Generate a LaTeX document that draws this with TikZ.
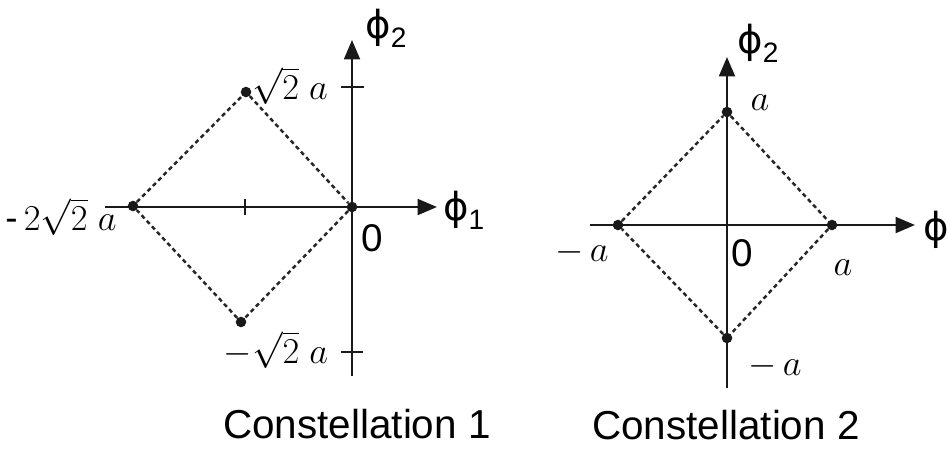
\documentclass[tikz,border=0pt]{standalone}
\usepackage[no-math]{fontspec}
\setmainfont{Liberation Sans}
\newfontfamily\phifont{DejaVu Sans}
\usetikzlibrary{arrows.meta, positioning}

\newcommand{\phisub}[1]{{\phifont ϕ}\raisebox{-0.45ex}{\fontsize{16}{16}\selectfont #1}}

\begin{document}
\begin{tikzpicture}[
    x=0.02cm, y=-0.02cm,
    axis/.style={line width=1.4pt, black!90},
    axisarr/.style={axis, -{Triangle[length=11pt, width=9pt]}},
    bound/.style={line width=1.4pt, black!85, dash pattern=on 2.4pt off 1.9pt},
    sigpt/.style={circle, fill=black!90, inner sep=0pt, minimum size=6pt},
    tickmark/.style={line width=1.3pt, black!90},
    lbl/.style={font=\fontsize{21}{24}\selectfont, inner sep=1pt},
    axlbl/.style={font=\fontsize{22}{24}\selectfont, inner sep=1pt},
    captext/.style={font=\fontsize{23}{26}\selectfont}
]
\useasboundingbox (0,0) rectangle (947,461);

% Constellation 1: axes
\coordinate (x1l) at (105,207);
\coordinate (x1r) at (437,207);
\coordinate (y1b) at (352,376);
\coordinate (y1t) at (352,40);
\draw[axisarr] (x1l) -- (x1r);
\draw[axisarr] (y1b) -- (y1t);
\draw[tickmark] (341,87) -- ++(23,0);
\draw[tickmark] (341,352) -- ++(22,0);
\draw[tickmark] (245,199) -- ++(0,16);

% Constellation 1: signal points
\node[sigpt] (c1o) at (352,207) {};
\node[sigpt] (c1l) at (133,206) {};
\node[sigpt] (c1t) at (246,92) {};
\node[sigpt] (c1b) at (241,322) {};
\draw[bound] (c1l) -- (c1t) -- (c1o) -- (c1b) -- (c1l);

% Constellation 1: labels
\node[lbl] (c1lt) at (290,86) {$\sqrt{2}\;a$};
\node[lbl] (c1lb) at (276,350) {$-\sqrt{2}\;a$};
\node[lbl] (c1ll) at (61,217) {-\,$2\sqrt{2}\;a$};
\node[axlbl] (c1zero) at (372,238) {0};
\node[axlbl] (c1phi2) at (386,28) {\phisub{2}};
\node[axlbl, anchor=west] (c1phi1) at (441,210) {\phisub{1}};
\node[captext] (cap1) at (357,424) {Constellation 1};

% Constellation 2: axes
\coordinate (x2l) at (590,225);
\coordinate (x2r) at (915,225);
\coordinate (y2b) at (727,388);
\coordinate (y2t) at (727,57);
\draw[axisarr] (x2l) -- (x2r);
\draw[axisarr] (y2b) -- (y2t);

% Constellation 2: signal points
\node[sigpt] (c2l) at (618,225) {};
\node[sigpt] (c2r) at (832,225) {};
\node[sigpt] (c2t) at (727,112) {};
\node[sigpt] (c2b) at (727,338) {};
\draw[bound] (c2l) -- (c2t) -- (c2r) -- (c2b) -- (c2l);

% Constellation 2: labels
\node[lbl] (c2lt) at (760,103) {$a$};
\node[lbl] (c2ll) at (582,252) {$-\,a$};
\node[lbl] (c2lr) at (843,268) {$a$};
\node[lbl] (c2lb) at (775,366) {$-\,a$};
\node[axlbl] (c2zero) at (742,253) {0};
\node[axlbl] (c2phi2) at (758,43) {\phisub{2}};
\node[axlbl, anchor=west] (c2phi1) at (921,230) {\phisub{1}};
\node[captext] (cap2) at (726,425) {Constellation 2};

\end{tikzpicture}
\end{document}
